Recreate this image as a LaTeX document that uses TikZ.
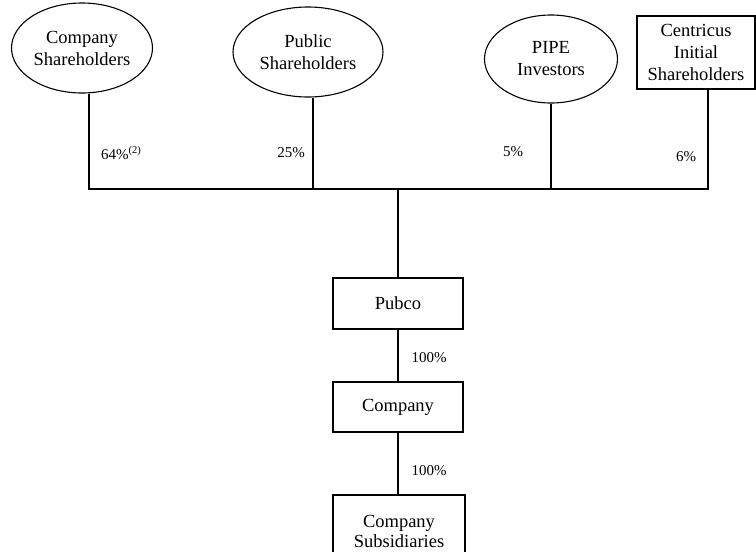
\documentclass[tikz,border=0pt]{standalone}
\usepackage{fontspec}
\setmainfont{Liberation Serif}
\usetikzlibrary{shapes.geometric}
\begin{document}
\begin{tikzpicture}[x=1pt,y=-1pt,
  oval/.style={draw,ellipse,line width=1.1pt,inner sep=0pt,align=center,font=\fontsize{18.5}{22}\selectfont},
  entbox/.style={draw,rectangle,line width=1.1pt,inner sep=0pt,align=center,font=\fontsize{18.5}{22}\selectfont},
  link/.style={line width=2.7pt},
  pct/.style={inner sep=0pt,font=\fontsize{15}{17}\selectfont}]
\useasboundingbox (0,0) rectangle (756,552);
\begin{scope}
\clip (0,0) rectangle (756,552);
\node[oval,minimum width=141pt,minimum height=90pt] (cs) at (82,48) {Company\\Shareholders};
\node[oval,minimum width=150pt,minimum height=90pt] (ps) at (308,52) {Public\\Shareholders};
\node[oval,minimum width=133pt,minimum height=88pt] (pipe) at (551,59) {PIPE\\Investors};
\node[entbox,minimum width=118pt,minimum height=73pt] (cis) at (696,52.5) {Centricus\\Initial\\Shareholders};
\node[entbox,minimum width=130pt,minimum height=51pt] (pubco) at (398,303.5) {Pubco};
\node[entbox,minimum width=130pt,minimum height=50pt] (co) at (398,407) {Company};
\node[entbox,minimum width=132pt,minimum height=72pt,font=\fontsize{18.5}{20}\selectfont] (sub) at (399,531) {Company\\Subsidiaries};

\coordinate (b1) at (89,189);
\coordinate (b2) at (313,189);
\coordinate (b3) at (551,189);
\coordinate (b4) at (708,189);
\coordinate (bt) at (398,189);

\draw[link] (b1 |- cs.south) -- (b1);
\draw[link] (b2 |- ps.south) -- (b2);
\draw[link] (pipe.south) -- (b3);
\draw[link] (b4 |- cis.south) -- (b4);
\draw[link,line cap=rect] (b1) -- (b4);
\draw[link] (bt) -- (pubco.north);
\draw[link] (pubco.south) -- (co.north);
\draw[link] (co.south) -- (sub.north -| co.south);

\node[pct,anchor=west] (l1) at (101,153) {64\%\textsuperscript{(2)}};
\node[pct] (l2) at (291,153) {25\%};
\node[pct] (l3) at (513,152) {5\%};
\node[pct] (l4) at (686,157) {6\%};
\node[pct] (l5) at (429,358) {100\%};
\node[pct] (l6) at (429,471) {100\%};
\end{scope}
\end{tikzpicture}
\end{document}
